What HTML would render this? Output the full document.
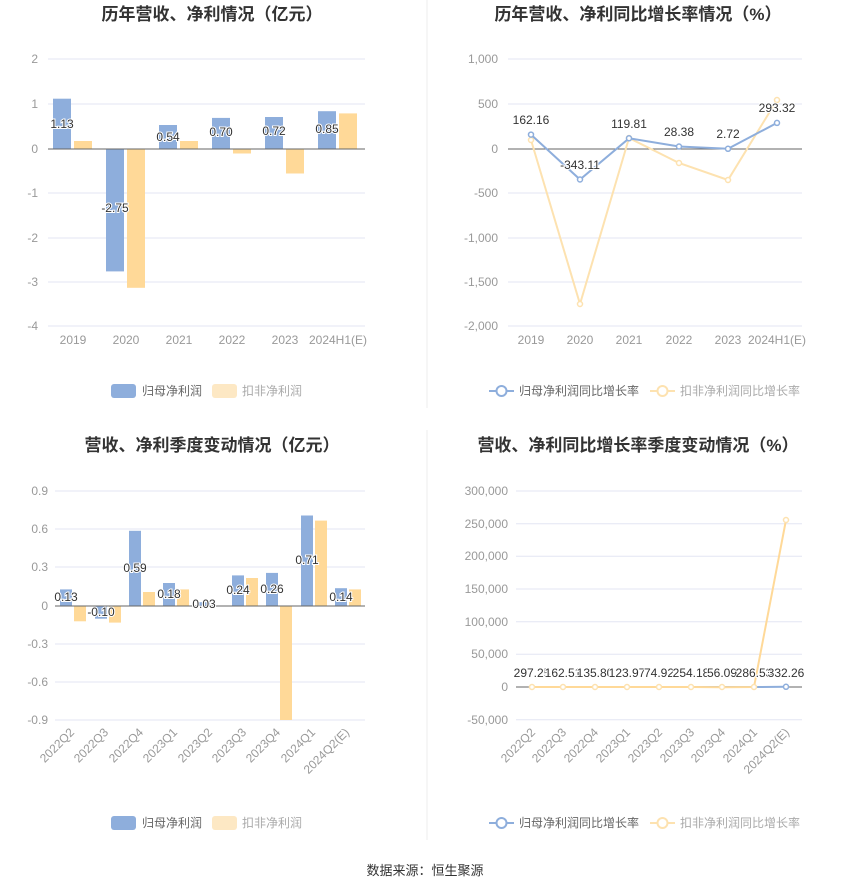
<!DOCTYPE html>
<html><head><meta charset="utf-8"><style>
html,body{margin:0;padding:0;background:#fff;}
svg{display:block;font-family:"Liberation Sans","Noto Sans CJK SC",sans-serif;}
.t{font-size:17px;font-weight:bold;fill:#333;}
.ax{font-size:12px;fill:#999;}
.lb{font-size:12px;fill:#333;paint-order:stroke;stroke:#fff;stroke-width:2px;}
.lg{font-size:12px;fill:#666;}
.lg2{font-size:12px;fill:#aaa;}
.g{stroke:#e3e6f3;stroke-width:1;}
</style></head><body>
<svg width="850" height="891" viewBox="0 0 850 891">
<line x1="427" y1="0" x2="427" y2="408" stroke="#eee"/>
<line x1="427" y1="430" x2="427" y2="840" stroke="#eee"/>

<!-- Chart 1 -->
<text class="t" x="212" y="20" text-anchor="middle">历年营收、净利情况（亿元）</text>
<g class="g">
<line x1="48" y1="59" x2="365" y2="59"/><line x1="48" y1="104" x2="365" y2="104"/>
<line x1="48" y1="193" x2="365" y2="193"/><line x1="48" y1="238" x2="365" y2="238"/>
<line x1="48" y1="282" x2="365" y2="282"/><line x1="48" y1="326" x2="365" y2="326"/>
</g>
<g class="ax" text-anchor="end">
<text x="38" y="63">2</text><text x="38" y="108">1</text><text x="38" y="153">0</text>
<text x="38" y="197">-1</text><text x="38" y="242">-2</text><text x="38" y="286">-3</text><text x="38" y="330">-4</text>
</g>
<g fill="#8eaedc">
<rect x="53" y="98.7" width="18" height="50.3"/>
<rect x="106" y="149" width="18" height="122.4"/>
<rect x="159" y="125" width="18" height="24"/>
<rect x="212" y="117.9" width="18" height="31.1"/>
<rect x="265" y="117" width="18" height="32"/>
<rect x="318" y="111.2" width="18" height="37.8"/>
</g>
<g fill="#ffd998">
<rect x="74" y="141" width="18" height="8"/>
<rect x="127" y="149" width="18" height="138.8"/>
<rect x="180" y="141" width="18" height="8"/>
<rect x="233" y="149" width="18" height="4.5"/>
<rect x="286" y="149" width="18" height="24.5"/>
<rect x="339" y="113.4" width="18" height="35.6"/>
</g>
<line x1="48" y1="149" x2="365" y2="149" stroke="#666"/>
<g class="lb" text-anchor="middle">
<text x="62" y="128">1.13</text><text x="115" y="212">-2.75</text><text x="168" y="141">0.54</text>
<text x="221" y="136">0.70</text><text x="274" y="135">0.72</text><text x="327" y="133">0.85</text>
</g>
<g class="ax" text-anchor="middle">
<text x="73" y="344">2019</text><text x="126" y="344">2020</text><text x="179" y="344">2021</text>
<text x="232" y="344">2022</text><text x="285" y="344">2023</text><text x="338" y="344">2024H1(E)</text>
</g>
<rect x="111" y="384" width="25" height="14" rx="3" fill="#8eaedc"/>
<text class="lg" x="142" y="395">归母净利润</text>
<rect x="212" y="384" width="25" height="14" rx="3" fill="#fde8c4"/>
<text class="lg2" x="242" y="395">扣非净利润</text>

<!-- Chart 2 -->
<text class="t" x="638" y="20" text-anchor="middle">历年营收、净利同比增长率情况（%）</text>
<g class="g">
<line x1="508" y1="59" x2="802" y2="59"/><line x1="508" y1="104" x2="802" y2="104"/>
<line x1="508" y1="193" x2="802" y2="193"/><line x1="508" y1="238" x2="802" y2="238"/>
<line x1="508" y1="282" x2="802" y2="282"/><line x1="508" y1="326" x2="802" y2="326"/>
</g>
<g class="ax" text-anchor="end">
<text x="498" y="63">1,000</text><text x="498" y="108">500</text><text x="498" y="153">0</text>
<text x="498" y="197">-500</text><text x="498" y="242">-1,000</text><text x="498" y="286">-1,500</text><text x="498" y="330">-2,000</text>
</g>
<line x1="508" y1="149" x2="802" y2="149" stroke="#666"/>
<polyline fill="none" stroke="#fde2b0" stroke-width="2" points="531,140 580,304 629,138 679,163 728,180 777,100"/>
<g fill="#fff" stroke="#fde2b0" stroke-width="1.5">
<circle cx="531" cy="140" r="2.5"/><circle cx="580" cy="304" r="2.5"/><circle cx="629" cy="138" r="2.5"/>
<circle cx="679" cy="163" r="2.5"/><circle cx="728" cy="180" r="2.5"/><circle cx="777" cy="100" r="2.5"/>
</g>
<polyline fill="none" stroke="#8eaedc" stroke-width="2" points="531,134.6 580,179.5 629,138.3 679,146.5 728,148.8 777,122.9"/>
<g fill="#fff" stroke="#8eaedc" stroke-width="1.5">
<circle cx="531" cy="134.6" r="2.5"/><circle cx="580" cy="179.5" r="2.5"/><circle cx="629" cy="138.3" r="2.5"/>
<circle cx="679" cy="146.5" r="2.5"/><circle cx="728" cy="148.8" r="2.5"/><circle cx="777" cy="122.9" r="2.5"/>
</g>
<g class="lb" text-anchor="middle">
<text x="531" y="124">162.16</text><text x="580" y="169">-343.11</text><text x="629" y="128">119.81</text>
<text x="679" y="136">28.38</text><text x="728" y="138">2.72</text><text x="777" y="112">293.32</text>
</g>
<g class="ax" text-anchor="middle">
<text x="531" y="344">2019</text><text x="580" y="344">2020</text><text x="629" y="344">2021</text>
<text x="679" y="344">2022</text><text x="728" y="344">2023</text><text x="777" y="344">2024H1(E)</text>
</g>
<line x1="489" y1="391" x2="514" y2="391" stroke="#8eaedc" stroke-width="2"/>
<circle cx="501.5" cy="391" r="5" fill="#fff" stroke="#8eaedc" stroke-width="2"/>
<text class="lg" x="519" y="395">归母净利润同比增长率</text>
<line x1="650" y1="391" x2="675" y2="391" stroke="#fde2b0" stroke-width="2"/>
<circle cx="662.5" cy="391" r="5" fill="#fff" stroke="#fde2b0" stroke-width="2"/>
<text class="lg2" x="680" y="395">扣非净利润同比增长率</text>

<!-- Chart 3 -->
<text class="t" x="212" y="451" text-anchor="middle">营收、净利季度变动情况（亿元）</text>
<g class="g">
<line x1="55" y1="491" x2="365" y2="491"/><line x1="55" y1="529" x2="365" y2="529"/>
<line x1="55" y1="567" x2="365" y2="567"/><line x1="55" y1="644" x2="365" y2="644"/>
<line x1="55" y1="682" x2="365" y2="682"/><line x1="55" y1="720" x2="365" y2="720"/>
</g>
<g class="ax" text-anchor="end">
<text x="48" y="495">0.9</text><text x="48" y="533">0.6</text><text x="48" y="571">0.3</text><text x="48" y="610">0</text>
<text x="48" y="648">-0.3</text><text x="48" y="686">-0.6</text><text x="48" y="724">-0.9</text>
</g>
<g fill="#8eaedc">
<rect x="60" y="589.4" width="12" height="16.6"/>
<rect x="95" y="606" width="12" height="12.7"/>
<rect x="129" y="530.8" width="12" height="75.2"/>
<rect x="163" y="583" width="12" height="23"/>
<rect x="198" y="602.2" width="12" height="3.8"/>
<rect x="232" y="575.4" width="12" height="30.6"/>
<rect x="266" y="572.9" width="12" height="33.1"/>
<rect x="301" y="515.5" width="12" height="90.5"/>
<rect x="335" y="588.2" width="12" height="17.8"/>
</g>
<g fill="#ffd998">
<rect x="74" y="606" width="12" height="15.3"/>
<rect x="109" y="606" width="12" height="16.6"/>
<rect x="143" y="592" width="12" height="14"/>
<rect x="177" y="589.4" width="12" height="16.6"/>
<rect x="246" y="578" width="12" height="28"/>
<rect x="280" y="606" width="12" height="114"/>
<rect x="315" y="520.6" width="12" height="85.4"/>
<rect x="349" y="589.4" width="12" height="16.6"/>
</g>
<line x1="55" y1="606" x2="365" y2="606" stroke="#666"/>
<g class="lb" text-anchor="middle">
<text x="66" y="601">0.13</text><text x="101" y="616">-0.10</text><text x="135" y="572">0.59</text>
<text x="169" y="598">0.18</text><text x="204" y="608">0.03</text><text x="238" y="594">0.24</text>
<text x="272" y="593">0.26</text><text x="307" y="564">0.71</text><text x="341" y="601">0.14</text>
</g>
<g class="ax" text-anchor="end">
<text transform="translate(75,733) rotate(-45)">2022Q2</text>
<text transform="translate(109,733) rotate(-45)">2022Q3</text>
<text transform="translate(144,733) rotate(-45)">2022Q4</text>
<text transform="translate(178,733) rotate(-45)">2023Q1</text>
<text transform="translate(213,733) rotate(-45)">2023Q2</text>
<text transform="translate(247,733) rotate(-45)">2023Q3</text>
<text transform="translate(281,733) rotate(-45)">2023Q4</text>
<text transform="translate(316,733) rotate(-45)">2024Q1</text>
<text transform="translate(350,733) rotate(-45)">2024Q2(E)</text>
</g>
<rect x="111" y="816" width="25" height="14" rx="3" fill="#8eaedc"/>
<text class="lg" x="142" y="827">归母净利润</text>
<rect x="212" y="816" width="25" height="14" rx="3" fill="#fde8c4"/>
<text class="lg2" x="242" y="827">扣非净利润</text>

<!-- Chart 4 -->
<text class="t" x="638" y="451" text-anchor="middle">营收、净利同比增长率季度变动情况（%）</text>
<g class="g">
<line x1="516" y1="491" x2="802" y2="491"/><line x1="516" y1="523.7" x2="802" y2="523.7"/>
<line x1="516" y1="556.3" x2="802" y2="556.3"/><line x1="516" y1="589" x2="802" y2="589"/>
<line x1="516" y1="621.7" x2="802" y2="621.7"/><line x1="516" y1="654.3" x2="802" y2="654.3"/>
<line x1="516" y1="719.7" x2="802" y2="719.7"/>
</g>
<g class="ax" text-anchor="end">
<text x="508" y="495">300,000</text><text x="508" y="528">250,000</text><text x="508" y="560">200,000</text>
<text x="508" y="593">150,000</text><text x="508" y="626">100,000</text><text x="508" y="658">50,000</text>
<text x="508" y="691">0</text><text x="508" y="724">-50,000</text>
</g>
<line x1="516" y1="687" x2="802" y2="687" stroke="#666"/>
<polyline fill="none" stroke="#8eaedc" stroke-width="2" points="532,687 563,687 595,687 627,687 659,687 691,687 722,687 754,687 786,686.8"/>
<circle cx="786" cy="686.8" r="2.5" fill="#fff" stroke="#8eaedc" stroke-width="1.5"/>
<polyline fill="none" stroke="#ffd998" stroke-width="2" points="532,687 563,687 595,687 627,687 659,687 691,687 722,687.3 754,687 786,520"/>
<g fill="#fff" stroke="#fde2b0" stroke-width="1.5">
<circle cx="532" cy="687" r="2.5"/><circle cx="563" cy="687" r="2.5"/><circle cx="595" cy="687" r="2.5"/>
<circle cx="627" cy="687" r="2.5"/><circle cx="659" cy="687" r="2.5"/><circle cx="691" cy="687" r="2.5"/>
<circle cx="722" cy="687" r="2.5"/><circle cx="754" cy="687" r="2.5"/><circle cx="786" cy="520" r="2.5"/>
</g>
<g class="lb" text-anchor="middle">
<text x="532" y="677">297.25</text><text x="563" y="677">162.51</text><text x="595" y="677">135.80</text>
<text x="627" y="677">123.97</text><text x="659" y="677">74.92</text><text x="691" y="677">254.18</text>
<text x="722" y="677">56.09</text><text x="754" y="677">286.53</text><text x="786" y="677">332.26</text>
</g>
<g class="ax" text-anchor="end">
<text transform="translate(536,733) rotate(-45)">2022Q2</text>
<text transform="translate(567,733) rotate(-45)">2022Q3</text>
<text transform="translate(599,733) rotate(-45)">2022Q4</text>
<text transform="translate(631,733) rotate(-45)">2023Q1</text>
<text transform="translate(663,733) rotate(-45)">2023Q2</text>
<text transform="translate(695,733) rotate(-45)">2023Q3</text>
<text transform="translate(726,733) rotate(-45)">2023Q4</text>
<text transform="translate(758,733) rotate(-45)">2024Q1</text>
<text transform="translate(790,733) rotate(-45)">2024Q2(E)</text>
</g>
<line x1="489" y1="823" x2="514" y2="823" stroke="#8eaedc" stroke-width="2"/>
<circle cx="501.5" cy="823" r="5" fill="#fff" stroke="#8eaedc" stroke-width="2"/>
<text class="lg" x="519" y="827">归母净利润同比增长率</text>
<line x1="650" y1="823" x2="675" y2="823" stroke="#fde2b0" stroke-width="2"/>
<circle cx="662.5" cy="823" r="5" fill="#fff" stroke="#fde2b0" stroke-width="2"/>
<text class="lg2" x="680" y="827">扣非净利润同比增长率</text>

<text x="425" y="875" text-anchor="middle" style="font-size:13px;fill:#333">数据来源：恒生聚源</text>
</svg>
</body></html>
